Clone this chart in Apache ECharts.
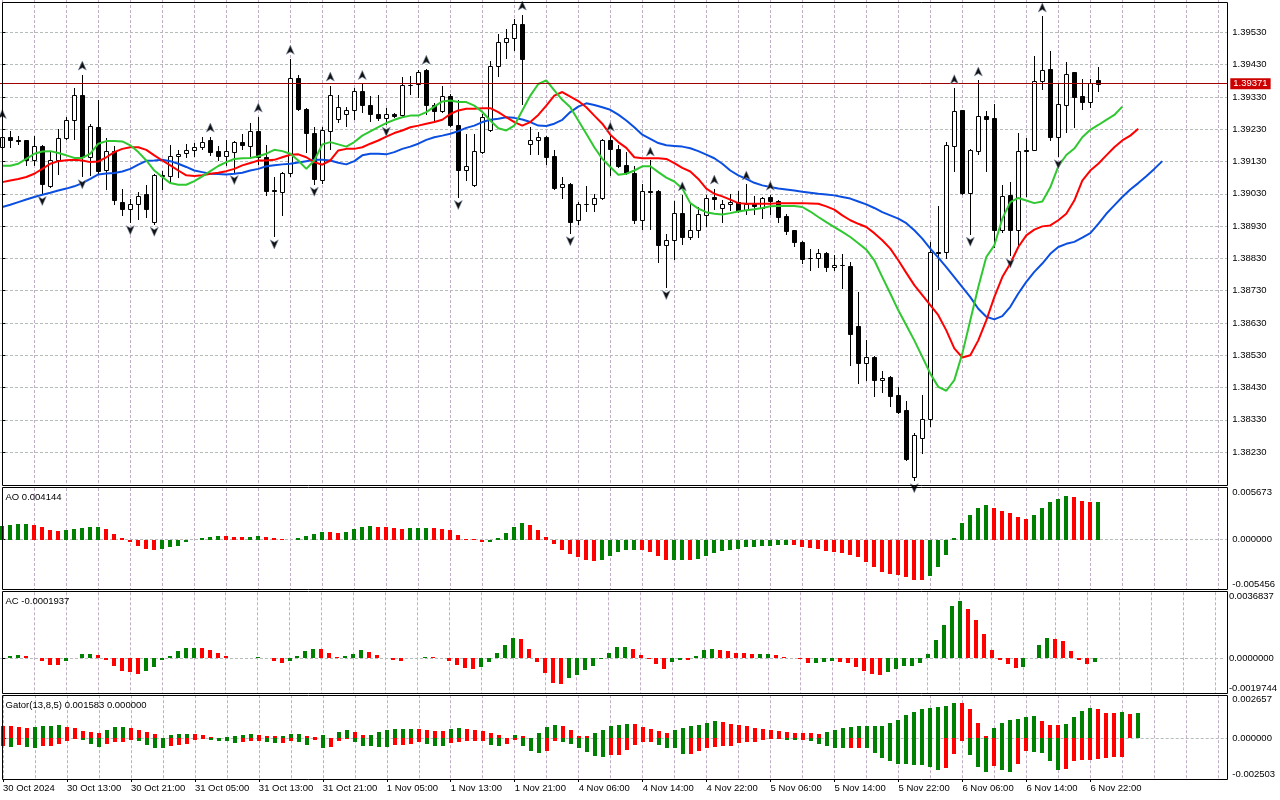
<!DOCTYPE html>
<html><head><meta charset="utf-8">
<script src="https://cdn.jsdelivr.net/npm/echarts@6/dist/echarts.min.js"></script>
<style>html,body{margin:0;padding:0;background:#fff}#c{width:1280px;height:800px}</style>
</head><body><div id="c"></div>
<script>
// ---------- data ----------
const sessions = [['30 Oct',5,23],['31 Oct',0,23],['1 Nov',0,22],['4 Nov',0,23],['5 Nov',0,23],['6 Nov',0,23]];
const firstLabel = '30 Oct 2024';

const open = [1.39174,1.39207,1.39197,1.39195,1.39135,1.39178,1.39055,1.39135,1.39203,1.39259,
1.39336,1.39143,1.39238,1.39104,1.39161,1.39006,1.38984,1.38999,1.39028,1.38942,
1.39087,1.39086,1.39148,1.39156,1.39166,1.39174,1.39195,1.39161,1.39147,1.39159,
1.39189,1.39178,1.39223,1.39143,1.39043,1.39035,1.39094,1.39389,1.39293,1.39219,
1.39073,1.39224,1.39262,1.39277,1.39290,1.39347,1.39305,1.39277,1.39265,1.39277,
1.39274,1.39367,1.39370,1.39412,1.39305,1.39286,1.39333,1.39243,1.39104,1.39058,
1.39159,1.39226,1.39427,1.39499,1.39513,1.39556,1.39185,1.39195,1.39205,1.39146,
1.39051,1.39061,1.38948,1.38999,1.38999,1.39018,1.39195,1.39169,1.39118,1.39095,
1.38950,1.39038,1.39040,1.38872,1.38888,1.38971,1.38896,1.38917,1.38965,1.39020,
1.38987,1.38999,1.39004,1.38979,1.38997,1.38986,1.39020,1.39009,1.38960,1.38917,
1.38881,1.38832,1.38832,1.38848,1.38803,1.38810,1.38807,1.38620,1.38506,1.38525,
1.38453,1.38463,1.38406,1.38360,1.38154,1.38275,1.38334,1.38850,1.38850,1.39178,
1.39288,1.39032,1.39161,1.39272,1.39264,1.38919,1.39025,1.38917,1.39164,1.39167,
1.39378,1.39417,1.39205,1.39306,1.39406,1.39334,1.39314,1.39381];
const close = [1.39207,1.39197,1.39194,1.39135,1.39178,1.39061,1.39135,1.39203,1.39259,1.39336,
1.39143,1.39239,1.39102,1.39161,1.39012,1.38984,1.38999,1.39022,1.38984,1.39087,
1.39084,1.39147,1.39154,1.39166,1.39176,1.39191,1.39159,1.39147,1.39161,1.39189,
1.39180,1.39223,1.39143,1.39040,1.39037,1.39095,1.39389,1.39291,1.39218,1.39076,
1.39228,1.39336,1.39298,1.39290,1.39347,1.39305,1.39277,1.39264,1.39277,1.39270,
1.39367,1.39366,1.39408,1.39305,1.39286,1.39333,1.39243,1.39104,1.39117,1.39161,
1.39267,1.39427,1.39499,1.39513,1.39556,1.39448,1.39195,1.39205,1.39143,1.39048,
1.39061,1.38942,1.38999,1.38998,1.39018,1.39197,1.39169,1.39115,1.39094,1.38950,
1.39040,1.39036,1.38872,1.38888,1.38971,1.38896,1.38919,1.38966,1.39018,1.39015,
1.38999,1.39006,1.38976,1.38997,1.38993,1.39018,1.39009,1.38958,1.38915,1.38881,
1.38827,1.38830,1.38847,1.38803,1.38810,1.38808,1.38597,1.38506,1.38523,1.38453,
1.38461,1.38403,1.38355,1.38210,1.38283,1.38334,1.38850,1.38848,1.39180,1.39285,
1.39032,1.39164,1.39272,1.39262,1.38919,1.39022,1.38917,1.39161,1.39163,1.39378,
1.39414,1.39207,1.39308,1.39401,1.39331,1.39314,1.39373,1.39371];
const high = [1.39249,1.39223,1.39210,1.39197,1.39210,1.39181,1.39159,1.39231,1.39269,1.39358,
1.39399,1.39247,1.39319,1.39203,1.39178,1.39045,1.39015,1.39035,1.39058,1.39092,
1.39099,1.39180,1.39166,1.39183,1.39187,1.39205,1.39207,1.39178,1.39197,1.39193,
1.39216,1.39249,1.39269,1.39180,1.39082,1.39097,1.39448,1.39399,1.39295,1.39236,
1.39236,1.39365,1.39336,1.39300,1.39357,1.39370,1.39334,1.39336,1.39296,1.39281,
1.39393,1.39396,1.39414,1.39417,1.39312,1.39365,1.39339,1.39319,1.39214,1.39216,
1.39277,1.39442,1.39525,1.39540,1.39571,1.39585,1.39238,1.39221,1.39210,1.39164,
1.39082,1.39063,1.39004,1.39055,1.39030,1.39200,1.39210,1.39182,1.39159,1.39115,
1.39061,1.39133,1.39042,1.38904,1.39009,1.39025,1.39001,1.38989,1.39025,1.39046,
1.39012,1.39028,1.39037,1.39059,1.39022,1.39020,1.39027,1.39012,1.38968,1.38919,
1.38883,1.38860,1.38860,1.38850,1.38839,1.38842,1.38819,1.38726,1.38578,1.38527,
1.38482,1.38465,1.38432,1.38388,1.38288,1.38408,1.38881,1.38991,1.39190,1.39357,
1.39290,1.39169,1.39381,1.39285,1.39308,1.39056,1.39066,1.39218,1.39202,1.39458,
1.39579,1.39473,1.39370,1.39437,1.39408,1.39386,1.39386,1.39422];
const low = [1.39169,1.39174,1.39183,1.39118,1.39118,1.39032,1.39051,1.39090,1.39200,1.39200,
1.39084,1.39087,1.39092,1.39045,1.38999,1.38963,1.38942,1.38953,1.38958,1.38937,
1.39045,1.39066,1.39082,1.39143,1.39146,1.39169,1.39149,1.39133,1.39118,1.39097,
1.39169,1.39143,1.39123,1.39025,1.38898,1.38963,1.39084,1.39288,1.39159,1.39061,
1.39063,1.39169,1.39252,1.39241,1.39262,1.39283,1.39255,1.39259,1.39247,1.39267,
1.39267,1.39339,1.39329,1.39277,1.39252,1.39283,1.39241,1.39020,1.39074,1.39054,
1.39156,1.39224,1.39396,1.39451,1.39475,1.39308,1.39154,1.39152,1.39123,1.39045,
1.39018,1.38908,1.38937,1.38976,1.38976,1.39015,1.39087,1.39113,1.39092,1.38939,
1.38922,1.38922,1.38819,1.38741,1.38827,1.38875,1.38889,1.38896,1.38930,1.38982,
1.38942,1.38981,1.38973,1.38968,1.38968,1.38956,1.38966,1.38942,1.38906,1.38868,
1.38816,1.38793,1.38803,1.38791,1.38795,1.38739,1.38499,1.38444,1.38453,1.38403,
1.38417,1.38372,1.38352,1.38207,1.38143,1.38226,1.38310,1.38736,1.38832,1.39100,
1.39030,1.38906,1.39152,1.39102,1.38865,1.38912,1.38839,1.38872,1.39022,1.39164,
1.39355,1.39195,1.39146,1.39221,1.39238,1.39293,1.39300,1.39348];

// Alligator (already shifted forward: jaw 8, teeth 5, lips 3 bars)
const jaw = [1.38989,1.38996,1.39004,1.39012,1.39020,1.39027,1.39033,1.39040,1.39046,1.39053,
1.39063,1.39076,1.39090,1.39093,1.39094,1.39099,1.39107,1.39120,1.39132,1.39133,
1.39135,1.39131,1.39123,1.39113,1.39102,1.39097,1.39092,1.39091,1.39090,1.39092,
1.39095,1.39102,1.39107,1.39115,1.39118,1.39121,1.39123,1.39127,1.39131,1.39135,
1.39135,1.39133,1.39126,1.39121,1.39131,1.39149,1.39154,1.39154,1.39152,1.39159,
1.39169,1.39176,1.39185,1.39197,1.39205,1.39210,1.39216,1.39224,1.39234,1.39241,
1.39252,1.39259,1.39262,1.39267,1.39265,1.39260,1.39252,1.39241,1.39240,1.39247,
1.39259,1.39283,1.39300,1.39310,1.39305,1.39298,1.39290,1.39275,1.39257,1.39236,
1.39213,1.39200,1.39187,1.39180,1.39178,1.39176,1.39171,1.39162,1.39151,1.39140,
1.39123,1.39102,1.39087,1.39076,1.39064,1.39056,1.39051,1.39046,1.39043,1.39040,
1.39036,1.39033,1.39030,1.39028,1.39025,1.39020,1.39015,1.39006,1.38997,1.38986,
1.38973,1.38963,1.38953,1.38939,1.38917,1.38891,1.38860,1.38832,1.38803,1.38772,
1.38741,1.38710,1.38674,1.38649,1.38641,1.38651,1.38680,1.38721,1.38757,1.38788,
1.38814,1.38844,1.38865,1.38875,1.38881,1.38894,1.38908,1.38937,1.38968,1.38994,
1.39020,1.39043,1.39063,1.39084,1.39107,1.39131];
const teeth = [1.39066,1.39071,1.39076,1.39082,1.39092,1.39107,1.39123,1.39131,1.39134,1.39135,
1.39133,1.39128,1.39130,1.39143,1.39159,1.39169,1.39174,1.39174,1.39166,1.39149,
1.39133,1.39118,1.39102,1.39087,1.39085,1.39087,1.39092,1.39095,1.39100,1.39107,
1.39118,1.39125,1.39133,1.39133,1.39135,1.39143,1.39151,1.39152,1.39143,1.39128,
1.39120,1.39133,1.39164,1.39169,1.39169,1.39174,1.39185,1.39195,1.39207,1.39218,
1.39226,1.39236,1.39241,1.39247,1.39252,1.39259,1.39277,1.39288,1.39293,1.39293,
1.39295,1.39295,1.39283,1.39267,1.39252,1.39241,1.39252,1.39274,1.39303,1.39334,
1.39345,1.39331,1.39317,1.39298,1.39272,1.39247,1.39213,1.39190,1.39172,1.39143,
1.39140,1.39140,1.39140,1.39138,1.39125,1.39110,1.39099,1.39076,1.39046,1.39030,
1.39022,1.39012,1.39001,1.38999,1.38999,1.38999,1.38999,1.39001,1.39001,1.39001,
1.39001,1.39000,1.38999,1.38991,1.38981,1.38963,1.38948,1.38937,1.38927,1.38908,
1.38886,1.38860,1.38824,1.38785,1.38747,1.38716,1.38685,1.38654,1.38607,1.38551,
1.38523,1.38530,1.38576,1.38638,1.38710,1.38772,1.38814,1.38865,1.38901,1.38919,
1.38929,1.38932,1.38948,1.38968,1.39009,1.39071,1.39102,1.39123,1.39149,1.39174,
1.39195,1.39210,1.39231];
const lips = [1.39117,1.39117,1.39123,1.39138,1.39154,1.39161,1.39162,1.39156,1.39149,1.39141,
1.39141,1.39154,1.39185,1.39193,1.39193,1.39192,1.39180,1.39159,1.39133,1.39102,
1.39082,1.39063,1.39058,1.39058,1.39069,1.39084,1.39100,1.39116,1.39128,1.39138,
1.39140,1.39141,1.39146,1.39154,1.39166,1.39162,1.39154,1.39133,1.39107,1.39133,
1.39183,1.39190,1.39183,1.39176,1.39190,1.39210,1.39223,1.39236,1.39249,1.39259,
1.39267,1.39272,1.39272,1.39283,1.39300,1.39316,1.39319,1.39314,1.39314,1.39303,
1.39283,1.39257,1.39233,1.39226,1.39241,1.39288,1.39334,1.39370,1.39381,1.39350,
1.39321,1.39298,1.39257,1.39216,1.39174,1.39138,1.39113,1.39089,1.39092,1.39102,
1.39115,1.39115,1.39097,1.39080,1.39068,1.39046,1.39001,1.38984,1.38973,1.38968,
1.38966,1.38970,1.38975,1.38979,1.38982,1.38986,1.38991,1.38992,1.38992,1.38992,
1.38989,1.38975,1.38958,1.38942,1.38927,1.38912,1.38896,1.38877,1.38857,1.38824,
1.38772,1.38721,1.38669,1.38623,1.38576,1.38525,1.38473,1.38432,1.38420,1.38453,
1.38535,1.38638,1.38741,1.38834,1.38870,1.38953,1.39004,1.39017,1.39009,1.39001,
1.39006,1.39050,1.39115,1.39150,1.39170,1.39205,1.39228,1.39243,1.39259,1.39274,
1.39300];

const upFractals = [0,10,26,32,36,41,45,53,65,76,81,85,89,93,96,119,122,130];
const downFractals = [5,10,16,19,29,34,39,48,57,71,83,114,121,126,132];

const ao = [0.00156,0.00164,0.00174,0.00175,0.00164,0.00142,0.00109,0.00098,0.00102,0.00116,
0.00134,0.00141,0.00143,0.00113,0.00065,0.00015,-0.00029,-0.00073,-0.00105,-0.00116,
-0.00102,-0.00084,-0.00065,-0.00029,-0.00007,0.00022,0.00033,0.00044,0.00042,0.00033,
0.00031,0.00033,0.00044,0.00033,0.00015,0.00003,0.00001,0.00022,0.00044,0.00065,
0.00088,0.00086,0.00076,0.00087,0.00120,0.00142,0.00153,0.00142,0.00141,0.00124,
0.00113,0.00124,0.00125,0.00131,0.00124,0.00123,0.00102,0.00055,0.00011,0.00003,
-0.00025,-0.00020,0.00022,0.00076,0.00142,0.00185,0.00164,0.00109,0.00033,-0.00051,
-0.00116,-0.00153,-0.00193,-0.00222,-0.00236,-0.00218,-0.00182,-0.00138,-0.00116,-0.00109,
-0.00116,-0.00138,-0.00175,-0.00225,-0.00222,-0.00218,-0.00222,-0.00210,-0.00174,-0.00145,
-0.00127,-0.00109,-0.00098,-0.00084,-0.00082,-0.00073,-0.00065,-0.00055,-0.00053,-0.00055,
-0.00083,-0.00091,-0.00105,-0.00127,-0.00138,-0.00140,-0.00163,-0.00192,-0.00247,-0.00301,
-0.00352,-0.00381,-0.00392,-0.00410,-0.00443,-0.00445,-0.00399,-0.00298,-0.00163,0.00022,
0.00182,0.00272,0.00345,0.00381,0.00352,0.00316,0.00290,0.00251,0.00229,0.00272,
0.00345,0.00417,0.00447,0.00479,0.00465,0.00425,0.00410,0.004144];
const ac = [0.00002,0.00013,0.00019,0.00013,0.00001,-0.00019,-0.00037,-0.00038,-0.00015,-0.00002,
0.00024,0.00025,0.00019,-0.00009,-0.00047,-0.00075,-0.00080,-0.00088,-0.00075,-0.00052,
-0.00013,0.00013,0.00037,0.00054,0.00058,0.00056,0.00047,0.00030,0.00013,0.00002,
0.00001,-0.00002,0.00007,-0.00002,-0.00019,-0.00030,-0.00015,0.00013,0.00037,0.00052,
0.00050,0.00030,0.00008,0.00009,0.00024,0.00047,0.00035,0.00019,0.00001,-0.00013,
-0.00014,0.00001,0.00002,0.00007,0.00006,0.00001,-0.00019,-0.00041,-0.00058,-0.00059,
-0.00052,-0.00022,0.00028,0.00075,0.00114,0.00108,0.00049,-0.00024,-0.00086,-0.00140,
-0.00144,-0.00114,-0.00093,-0.00069,-0.00047,-0.00006,0.00030,0.00063,0.00064,0.00052,
0.00019,-0.00004,-0.00034,-0.00062,-0.00022,-0.00009,-0.00010,0.00011,0.00043,0.00052,
0.00043,0.00041,0.00030,0.00028,0.00022,0.00024,0.00025,0.00019,0.00007,-0.00001,
-0.00007,-0.00030,-0.00026,-0.00024,-0.00019,-0.00020,-0.00025,-0.00052,-0.00071,-0.00088,
-0.00095,-0.00080,-0.00060,-0.00045,-0.00042,-0.00030,0.00024,0.00099,0.00187,0.00289,
0.00321,0.00276,0.00215,0.00136,0.00043,-0.00013,-0.00034,-0.00058,-0.00052,0.00001,
0.00075,0.00114,0.00108,0.00093,0.00037,-0.00013,-0.00032,-0.0001937];
const gatorUpper = [0.00077,0.00073,0.00067,0.00061,0.00067,0.00075,0.00079,0.00080,0.00067,0.00061,
0.00047,0.00037,0.00036,0.00049,0.00067,0.00068,0.00061,0.00049,0.00037,0.00024,
0.00002,0.00018,0.00028,0.00029,0.00028,0.00018,0.00008,0.00003,0.00008,0.00013,
0.00018,0.00024,0.00022,0.00016,0.00015,0.00017,0.00024,0.00028,0.00016,0.00006,
0.00018,0.00001,0.00037,0.00049,0.00037,0.00018,0.00021,0.00037,0.00049,0.00055,
0.00056,0.00057,0.00055,0.00049,0.00045,0.00044,0.00055,0.00061,0.00055,0.00049,
0.00043,0.00032,0.00018,0.00002,0.00018,0.00017,0.00001,0.00034,0.00067,0.00085,
0.00077,0.00049,0.00015,0.00012,0.00032,0.00049,0.00075,0.00085,0.00091,0.00090,
0.00071,0.00055,0.00043,0.00035,0.00049,0.00063,0.00075,0.00081,0.00095,0.00104,
0.00099,0.00087,0.00081,0.00073,0.00065,0.00055,0.00051,0.00043,0.00037,0.00036,
0.00035,0.00030,0.00029,0.00037,0.00049,0.00061,0.00069,0.00073,0.00074,0.00075,
0.00077,0.00097,0.00116,0.00146,0.00164,0.00179,0.00185,0.00191,0.00199,0.00219,
0.00217,0.00179,0.00097,0.00014,0.00061,0.00097,0.00110,0.00122,0.00134,0.00135,
0.00106,0.00081,0.00080,0.00091,0.00130,0.00171,0.00189,0.00179,0.00158,0.00157,
0.00160,0.00152,0.001583];
const gatorLower = [-0.00045,-0.00051,-0.00041,-0.00051,-0.00059,-0.00049,-0.00045,-0.00037,-0.00018,-0.00004,
-0.00008,-0.00035,-0.00051,-0.00037,-0.00024,-0.00023,-0.00010,-0.00016,-0.00041,-0.00059,
-0.00060,-0.00049,-0.00039,-0.00035,-0.00010,-0.00003,-0.00008,-0.00016,-0.00018,-0.00028,
-0.00024,-0.00016,-0.00014,-0.00024,-0.00028,-0.00027,-0.00014,-0.00024,-0.00039,-0.00012,
-0.00059,-0.00051,-0.00016,-0.00005,-0.00024,-0.00049,-0.00050,-0.00051,-0.00052,-0.00041,
-0.00039,-0.00035,-0.00024,-0.00035,-0.00045,-0.00049,-0.00028,-0.00024,-0.00018,-0.00017,
-0.00016,-0.00041,-0.00045,-0.00035,-0.00011,-0.00045,-0.00077,-0.00091,-0.00077,-0.00018,
-0.00024,-0.00033,-0.00059,-0.00085,-0.00106,-0.00112,-0.00102,-0.00101,-0.00073,-0.00041,
-0.00024,-0.00020,-0.00041,-0.00057,-0.00061,-0.00099,-0.00095,-0.00077,-0.00059,-0.00055,
-0.00049,-0.00048,-0.00026,-0.00024,-0.00023,-0.00008,-0.00004,-0.00001,-0.00010,-0.00012,
-0.00011,-0.00016,-0.00035,-0.00049,-0.00059,-0.00060,-0.00059,-0.00058,-0.00059,-0.00091,
-0.00122,-0.00140,-0.00160,-0.00161,-0.00162,-0.00163,-0.00177,-0.00193,-0.00183,-0.00095,
-0.00014,-0.00102,-0.00177,-0.00207,-0.00171,-0.00193,-0.00207,-0.00160,-0.00077,-0.00085,
-0.00091,-0.00140,-0.00193,-0.00187,-0.00140,-0.00134,-0.00132,-0.00126,-0.00118,-0.00117,
-0.00114];

const priceTicks = [1.3823,1.3833,1.3843,1.3853,1.3863,1.3873,1.3883,1.3893,1.3903,1.3913,1.3923,1.3933,1.3943,1.3953];
const priceRange = [1.3813, 1.3963];
const aoRange = [-0.005456, 0.005673];
const acRange = [-0.0019744, 0.0036837];
const gatorRange = [-0.002503, 0.002657];

// ---------- derived helpers ----------
const times = [];
sessions.forEach(([d, a, b]) => { for (let h = a; h <= b; h++) times.push(d + ' ' + String(h).padStart(2, '0') + ':00'); });
const gridIdx = []; for (let i = 0; i <= 152; i += 4) gridIdx.push(i);
const labelIdx = []; for (let i = 0; i < times.length; i += 8) labelIdx.push(i);

function flags(arr, useAbs, first) {
  let prev = first;
  return arr.map((v, i) => {
    if (i === 0) return prev;
    const a = useAbs ? Math.abs(v) : v, b = useAbs ? Math.abs(arr[i - 1]) : arr[i - 1];
    if (a > b) prev = 1; else if (a < b) prev = 0;
    return prev;
  });
}

const FONT = '"Liberation Sans", Arial, sans-serif';
const FS = 9.5;
const GRIDV = '#c2adc6';
const GRIDH = '#b6bcb8';
const XMIN = -0.2875, XMAX = 153.125;
const LEFT = 0, WIDTH = 1227.3;
const GREEN = '#008000', RED = '#ff0000';

const chart = echarts.init(document.getElementById('c'), null, {renderer: 'canvas'});

function baseX(gridIndex) {
  return {type: 'value', gridIndex, min: XMIN, max: XMAX,
    axisLine: {show: false}, axisLabel: {show: false},
    axisTick: {show: false, customValues: gridIdx},
    splitLine: {show: true, lineStyle: {color: GRIDV, width: 1, type: [3, 2]}}};
}
function subY(gridIndex, range, dec) {
  const [mn, mx] = range;
  const base = {fontSize: FS, fontFamily: FONT, color: '#000'};
  return {type: 'value', gridIndex, position: 'right', min: mn, max: mx,
    axisLine: {show: false},
    axisTick: {show: true, length: 3, lineStyle: {color: '#000'}, customValues: [0]},
    splitLine: {show: true, lineStyle: {color: GRIDH, width: 1, type: [3, 2]}},
    axisLabel: {show: true, margin: 5, customValues: [mn, 0, mx], fontSize: FS, fontFamily: FONT, color: '#000',
      formatter: v => { const s = v.toFixed(dec); if (Math.abs(v - mx) < 1e-12) return '{t|' + s + '}'; if (Math.abs(v - mn) < 1e-12) return '{b|' + s + '}'; return s; },
      rich: {t: Object.assign({padding: [9, 0, 0, 0]}, base), b: Object.assign({padding: [0, 0, 10, 0]}, base)}}};
}

function candleItem(params, api) {
  const i = api.value(0), o = api.value(1), c = api.value(2), l = api.value(3), h = api.value(4);
  const po = api.coord([i, o]), pc = api.coord([i, c]), ph = api.coord([i, h]), pl = api.coord([i, l]);
  const x = Math.round(po[0]) + 0.5;
  const yT = Math.round(Math.min(po[1], pc[1])) + 0.5;
  const yB = Math.round(Math.max(po[1], pc[1])) + 0.5;
  const bull = c >= o;
  return {type: 'group', children: [
    {type: 'line', shape: {x1: x, y1: Math.round(ph[1]), x2: x, y2: Math.round(pl[1]) + 1}, style: {stroke: '#000', lineWidth: 1}},
    {type: 'rect', shape: {x: x - 2, y: yT, width: 4, height: yB - yT}, style: {fill: bull ? '#fff' : '#000', stroke: '#000', lineWidth: 1}}
  ]};
}
function histItem(params, api) {
  const i = api.value(0), v = api.value(1), up = api.value(2);
  const p0 = api.coord([i, 0]), p1 = api.coord([i, v]);
  const y0 = Math.round(p0[1]), y1 = Math.round(p1[1]);
  return {type: 'rect', shape: {x: Math.round(p0[0]) - 2, y: Math.min(y0, y1), width: 4, height: Math.abs(y1 - y0)},
    style: {fill: up ? GREEN : RED}};
}
function histSeries(arr, fl, xi, yi) {
  return {type: 'custom', xAxisIndex: xi, yAxisIndex: yi, renderItem: histItem, silent: true,
    encode: {x: 0, y: 1}, data: arr.map((v, i) => [i, v, fl[i]]), z: 3};
}

const upArrow = 'path://M4,0 L8,9 L4,6.6 L0,9 Z';
const downArrow = 'path://M0,0 L4,2.4 L8,0 L4,9 Z';
const lastPrice = close[close.length - 1];

const option = {
  animation: false,
  backgroundColor: '#fff',
  grid: [
    {left: LEFT, width: WIDTH, top: -0.6, height: 485},
    {left: LEFT, width: WIDTH, top: 488, height: 101.5},
    {left: LEFT, width: WIDTH, top: 592.3, height: 101},
    {left: LEFT, width: WIDTH, top: 695.2, height: 83.8}
  ],
  xAxis: [baseX(0), baseX(1), baseX(2), baseX(3),
    {type: 'value', gridIndex: 3, min: XMIN, max: XMAX, position: 'bottom',
      axisLine: {show: false}, splitLine: {show: false},
      axisTick: {show: true, length: 3, lineStyle: {color: '#000'}, customValues: labelIdx},
      axisLabel: {show: true, customValues: labelIdx, align: 'left', margin: 4, fontSize: FS, fontFamily: FONT, color: '#000',
        formatter: v => (v === 0 ? firstLabel : times[v])}}],
  yAxis: [
    {type: 'value', gridIndex: 0, position: 'right', min: priceRange[0], max: priceRange[1],
      axisLine: {show: false},
      axisTick: {show: true, length: 3, lineStyle: {color: '#000'}, customValues: priceTicks},
      splitLine: {show: true, lineStyle: {color: GRIDH, width: 1, type: [3, 2]}},
      axisLabel: {show: true, margin: 5, customValues: priceTicks, fontSize: FS, fontFamily: FONT, color: '#000',
        formatter: v => v.toFixed(5)}},
    subY(1, aoRange, 6), subY(2, acRange, 7), subY(3, gatorRange, 6)
  ],
  series: [
    {type: 'custom', name: 'candles', xAxisIndex: 0, yAxisIndex: 0, renderItem: candleItem, silent: true, z: 2,
      encode: {x: 0, y: [1, 2, 3, 4]},
      data: open.map((o, i) => [i, o, close[i], low[i], high[i]]),
      markLine: {symbol: 'none', silent: true, animation: false, precision: 5,
        lineStyle: {color: '#a00000', width: 1, type: 'solid'},
        label: {show: true, position: 'end', distance: 3, formatter: p => Number(p.value).toFixed(5),
          backgroundColor: '#cc0000', color: '#fff', padding: [1, 3, 0, 3], fontSize: FS, fontFamily: FONT},
        data: [{yAxis: lastPrice}]}},
    {type: 'line', name: 'Jaws', xAxisIndex: 0, yAxisIndex: 0, showSymbol: false, silent: true, z: 4,
      data: jaw.map((v, i) => [i, v]), lineStyle: {color: '#0b4fe0', width: 2}},
    {type: 'line', name: 'Teeth', xAxisIndex: 0, yAxisIndex: 0, showSymbol: false, silent: true, z: 4,
      data: teeth.map((v, i) => [i, v]), lineStyle: {color: '#ff0000', width: 2}},
    {type: 'line', name: 'Lips', xAxisIndex: 0, yAxisIndex: 0, showSymbol: false, silent: true, z: 4,
      data: lips.map((v, i) => [i, v]), lineStyle: {color: '#30c830', width: 2}},
    {type: 'scatter', name: 'Fractal up', xAxisIndex: 0, yAxisIndex: 0, silent: true, z: 5,
      symbol: upArrow, symbolSize: [8, 9], symbolOffset: [0, -9],
      itemStyle: {color: '#111', borderColor: '#7f8ea8', borderWidth: 0.6, opacity: 1},
      data: upFractals.map(i => [i, high[i]])},
    {type: 'scatter', name: 'Fractal down', xAxisIndex: 0, yAxisIndex: 0, silent: true, z: 5,
      symbol: downArrow, symbolSize: [8, 9], symbolOffset: [0, 8],
      itemStyle: {color: '#111', borderColor: '#7f8ea8', borderWidth: 0.6, opacity: 1},
      data: downFractals.map(i => [i, low[i]])},
    histSeries(ao, flags(ao, false, 1), 1, 1),
    histSeries(ac, flags(ac, false, 1), 2, 2),
    histSeries(gatorUpper, flags(gatorUpper, false, 0), 3, 3),
    histSeries(gatorLower, flags(gatorLower, true, 0), 3, 3)
  ],
  graphic: [
    {type: 'rect', z: 100, silent: true, shape: {x: 2.5, y: 2.5, width: 1225, height: 483}, style: {fill: 'none', stroke: '#000', lineWidth: 1}},
    {type: 'rect', z: 100, silent: true, shape: {x: 2.5, y: 487.5, width: 1225, height: 102}, style: {fill: 'none', stroke: '#000', lineWidth: 1}},
    {type: 'rect', z: 100, silent: true, shape: {x: 2.5, y: 591.5, width: 1225, height: 102}, style: {fill: 'none', stroke: '#000', lineWidth: 1}},
    {type: 'rect', z: 100, silent: true, shape: {x: 2.5, y: 695.5, width: 1225, height: 84}, style: {fill: 'none', stroke: '#000', lineWidth: 1}},
    {type: 'text', z: 100, silent: true, x: 5.5, y: 497, style: {text: 'AO ' + ao[ao.length - 1].toFixed(6), fill: '#000', font: FS + 'px ' + FONT, verticalAlign: 'middle'}},
    {type: 'text', z: 100, silent: true, x: 5.5, y: 601.5, style: {text: 'AC ' + ac[ac.length - 1].toFixed(7), fill: '#000', font: FS + 'px ' + FONT, verticalAlign: 'middle'}},
    {type: 'text', z: 100, silent: true, x: 5.5, y: 705.5, style: {text: 'Gator(13,8,5) ' + gatorUpper[gatorUpper.length - 1].toFixed(6) + ' ' + (0).toFixed(6), fill: '#000', font: FS + 'px ' + FONT, verticalAlign: 'middle'}}
  ]
};
chart.setOption(option);
</script>
</body></html>
